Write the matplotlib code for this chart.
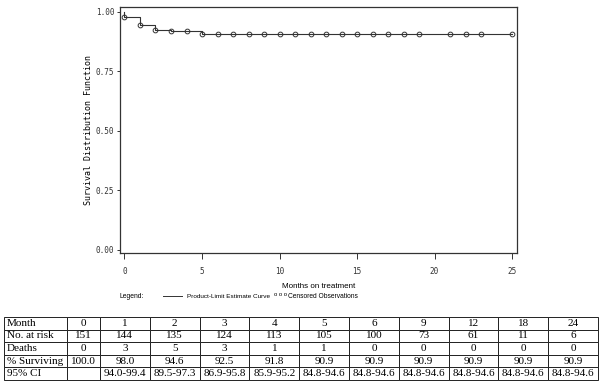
#!/usr/bin/env python3
"""Kaplan-Meier style survival plot with a summary table underneath."""
import numpy as np
import matplotlib

matplotlib.use("Agg")
import matplotlib.pyplot as plt
from matplotlib.lines import Line2D

# step curve (months, survival after the step)
step_t = [0, 0, 1, 2, 3, 5, 25]
step_s = [1.0, 0.98, 0.946, 0.925, 0.918, 0.909, 0.909]

# censored observations (months)
censored_t = [0, 1, 2, 3, 4, 5, 6, 7, 8, 9, 10, 11, 12, 13, 14, 15, 16, 17, 18, 19,
              21, 22, 23, 25]

# summary table
months = [0, 1, 2, 3, 4, 5, 6, 9, 12, 18, 24]
at_risk = [151, 144, 135, 124, 113, 105, 100, 73, 61, 11, 6]
deaths = [0, 3, 5, 3, 1, 1, 0, 0, 0, 0, 0]
surviving = ["100.0", "98.0", "94.6", "92.5", "91.8", "90.9", "90.9", "90.9",
             "90.9", "90.9", "90.9"]
ci95 = ["", "94.0-99.4", "89.5-97.3", "86.9-95.8", "85.9-95.2", "84.8-94.6",
        "84.8-94.6", "84.8-94.6", "84.8-94.6", "84.8-94.6", "84.8-94.6"]

x_ticks = [0, 5, 10, 15, 20, 25]
y_ticks = [0.0, 0.25, 0.50, 0.75, 1.00]

MONO = "DejaVu Sans Mono"
SANS = "Liberation Sans"
SERIF = "Liberation Serif"
INK = "#333333"


def survival_at(t):
    # value of the step curve just after time t
    idx = np.searchsorted(step_t, t, side="right") - 1
    return step_s[idx]


def main():
    fig = plt.figure(figsize=(6.0, 3.85), dpi=100)
    ax = fig.add_axes([0.2, 1 - 253 / 385, (517 - 120) / 600, (253 - 6.7) / 385])

    ax.step(step_t, step_s, where="post", color=INK, linewidth=0.8)
    cens_s = [survival_at(t) for t in censored_t]
    ax.plot(censored_t, cens_s, linestyle="none", marker="o", markersize=3.4,
            markerfacecolor="none", markeredgecolor=INK, markeredgewidth=0.7)

    ax.set_xlim(-0.29, 25.32)
    ax.set_ylim(-0.013, 1.022)
    ax.set_xticks(x_ticks)
    ax.set_yticks(y_ticks)
    ax.set_xticklabels([str(v) for v in x_ticks], fontfamily=MONO, fontsize=5.5)
    ax.set_yticklabels([f"{v:.2f}" for v in y_ticks], fontfamily=MONO, fontsize=5.5)
    ax.tick_params(axis="x", direction="out", length=4, width=0.7, pad=6, colors=INK)
    ax.tick_params(axis="y", direction="out", length=2.5, width=0.7, pad=1.5, colors=INK)
    for sp in ax.spines.values():
        sp.set_color(INK)
        sp.set_linewidth(0.9)

    ax.set_xlabel("Months on treatment", fontfamily=SANS, fontsize=5.8, labelpad=5)
    ax.set_ylabel("Survival Distribution Function", fontfamily=MONO, fontsize=6,
                  labelpad=2)

    # legend row
    ly = 1 - 296 / 385
    fig.text(120 / 600, ly, "Legend:", fontfamily=SANS, fontsize=4.9, va="center")
    fig.add_artist(Line2D([163 / 600, 182 / 600], [ly, ly], color=INK, linewidth=0.7,
                          transform=fig.transFigure))
    fig.text(187 / 600, ly, "Product-Limit Estimate Curve", fontfamily=SANS,
             fontsize=4.6, va="center")
    fig.text(274 / 600, ly + 0.004, "o o o", fontfamily=SANS, fontsize=4.2, va="center")
    fig.text(288 / 600, ly, "Censored Observations", fontfamily=SANS, fontsize=4.8,
             va="center")

    # summary table
    tax = fig.add_axes([4 / 600, 1 - 380 / 385, 594 / 600, 63 / 385])
    tax.axis("off")
    rows = [
        ["Month"] + [str(m) for m in months],
        ["No. at risk"] + [str(v) for v in at_risk],
        ["Deaths"] + [str(v) for v in deaths],
        ["% Surviving"] + surviving,
        ["95% CI"] + ci95,
    ]
    widths = [63, 33] + [49.8] * (len(months) - 1)
    total = sum(widths)
    tbl = tax.table(cellText=rows, colWidths=[w / total for w in widths],
                    cellLoc="center", bbox=[0, 0, 1, 1])
    tbl.auto_set_font_size(False)
    tbl.set_fontsize(8)
    for (r, c), cell in tbl.get_celld().items():
        cell.set_linewidth(0.7)
        cell.set_edgecolor("#222222")
        cell.get_text().set_fontfamily(SERIF)
        if c == 0:
            cell.get_text().set_horizontalalignment("left")
            cell.PAD = 0.04

    fig.savefig("out.png", dpi=100)
    plt.close(fig)


if __name__ == "__main__":
    main()
